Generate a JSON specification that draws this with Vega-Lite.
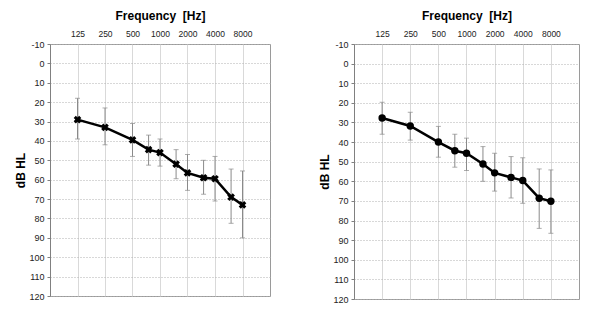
{
  "$schema": "https://vega.github.io/schema/vega-lite/v6.json",
  "padding": {"left": 14, "top": 8, "right": 5, "bottom": 5},
  "background": "white",
  "datasets": {
    "left": [
      {"freq": 125, "mean": 29, "lo": 18, "hi": 39},
      {"freq": 250, "mean": 33, "lo": 23, "hi": 42},
      {"freq": 500, "mean": 39.5, "lo": 31, "hi": 48},
      {"freq": 750, "mean": 44.5, "lo": 37, "hi": 52.5},
      {"freq": 1000, "mean": 46, "lo": 39, "hi": 53},
      {"freq": 1500, "mean": 52, "lo": 44.5, "hi": 59.5},
      {"freq": 2000, "mean": 56.5, "lo": 47, "hi": 65.5},
      {"freq": 3000, "mean": 59, "lo": 50, "hi": 67.5},
      {"freq": 4000, "mean": 59.5, "lo": 48, "hi": 71},
      {"freq": 6000, "mean": 69, "lo": 54.5, "hi": 82.5},
      {"freq": 8000, "mean": 73, "lo": 55.5, "hi": 90}
    ],
    "right": [
      {"freq": 125, "mean": 27.7, "lo": 19.7, "hi": 36},
      {"freq": 250, "mean": 31.8, "lo": 24.8, "hi": 39},
      {"freq": 500, "mean": 40, "lo": 32, "hi": 47.7},
      {"freq": 750, "mean": 44.4, "lo": 36, "hi": 52.8},
      {"freq": 1000, "mean": 45.7, "lo": 38, "hi": 54.5},
      {"freq": 1500, "mean": 51.2, "lo": 42.3, "hi": 60},
      {"freq": 2000, "mean": 55.7, "lo": 45.7, "hi": 65},
      {"freq": 3000, "mean": 58, "lo": 47.4, "hi": 68.5},
      {"freq": 4000, "mean": 59.6, "lo": 48, "hi": 71.2},
      {"freq": 6000, "mean": 68.6, "lo": 53.7, "hi": 84},
      {"freq": 8000, "mean": 70.2, "lo": 54.2, "hi": 86.5}
    ]
  },
  "spacing": 47,
  "hconcat": [
    {
      "width": 220,
      "height": 252,
      "data": {"name": "left"},
      "encoding": {
        "x": {"field": "freq", "type": "quantitative",
          "scale": {"type": "log", "base": 2, "domain": [62.5, 16000], "nice": false},
          "axis": {"orient": "top", "values": [125, 250, 500, 1000, 2000, 4000, 8000], "tickCount": 20, "format": "d",
            "title": "Frequency\u00a0\u00a0[Hz]", "ticks": false, "domain": false, "labelPadding": 6, "titlePadding": 7}},
        "y": {"field": "mean", "type": "quantitative",
          "scale": {"domain": [-10, 120], "reverse": true, "nice": false, "zero": false},
          "axis": {"values": [-10, 0, 10, 20, 30, 40, 50, 60, 70, 80, 90, 100, 110, 120], "tickCount": 30, "labelOverlap": false, "labelExpr": "'' + datum.value", "title": "dB HL", "titlePadding": 1}}
      },
      "layer": [
        {"mark": {"type": "errorbar", "ticks": {"size": 5}, "color": "#8a8a8a", "thickness": 1},
          "encoding": {
            "y": {"field": "lo", "type": "quantitative",
              "scale": {"domain": [-10, 120], "reverse": true, "nice": false, "zero": false},
              "axis": {"values": [-10, 0, 10, 20, 30, 40, 50, 60, 70, 80, 90, 100, 110, 120], "tickCount": 30, "labelOverlap": false, "labelExpr": "'' + datum.value", "title": "dB HL", "titlePadding": 1}},
            "y2": {"field": "hi"}}},
        {"mark": {"type": "rule", "color": "#8c8c8c", "strokeWidth": 1}, "encoding": {"y": {"datum": 0, "type": "quantitative"}}},
        {"mark": {"type": "line", "color": "black", "strokeWidth": 2.5}},
        {"mark": {"type": "point", "shape": "cross", "angle": 45, "filled": true, "color": "black", "size": 60, "opacity": 1}}
      ]
    },
    {
      "width": 225,
      "height": 255,
      "data": {"name": "right"},
      "encoding": {
        "x": {"field": "freq", "type": "quantitative",
          "scale": {"type": "log", "base": 2, "domain": [62.5, 16000], "nice": false},
          "axis": {"orient": "top", "values": [125, 250, 500, 1000, 2000, 4000, 8000], "tickCount": 20, "format": "d",
            "title": "Frequency\u00a0\u00a0[Hz]", "ticks": false, "domain": false, "labelPadding": 6, "titlePadding": 7}},
        "y": {"field": "mean", "type": "quantitative",
          "scale": {"domain": [-10, 120], "reverse": true, "nice": false, "zero": false},
          "axis": {"values": [-10, 0, 10, 20, 30, 40, 50, 60, 70, 80, 90, 100, 110, 120], "tickCount": 30, "labelOverlap": false, "labelExpr": "'' + datum.value", "title": "dB HL", "titlePadding": 1}}
      },
      "layer": [
        {"mark": {"type": "errorbar", "ticks": {"size": 5}, "color": "#8a8a8a", "thickness": 1},
          "encoding": {
            "y": {"field": "lo", "type": "quantitative",
              "scale": {"domain": [-10, 120], "reverse": true, "nice": false, "zero": false},
              "axis": {"values": [-10, 0, 10, 20, 30, 40, 50, 60, 70, 80, 90, 100, 110, 120], "tickCount": 30, "labelOverlap": false, "labelExpr": "'' + datum.value", "title": "dB HL", "titlePadding": 1}},
            "y2": {"field": "hi"}}},
        {"mark": {"type": "rule", "color": "#8c8c8c", "strokeWidth": 1}, "encoding": {"y": {"datum": 0, "type": "quantitative"}}},
        {"mark": {"type": "line", "color": "black", "strokeWidth": 2.5}},
        {"mark": {"type": "point", "shape": "circle", "filled": true, "color": "black", "size": 55, "opacity": 1}}
      ]
    }
  ],
  "config": {
    "font": "Liberation Sans",
    "view": {"stroke": "#9a9a9a", "strokeWidth": 1},
    "axis": {
      "labelFont": "Liberation Sans", "labelFontSize": 9, "labelColor": "#222222",
      "titleFont": "Liberation Sans", "titleFontSize": 12, "titleFontWeight": "bold", "titleColor": "#000000",
      "gridColor": "#d9d9d9", "gridWidth": 1, "gridOpacity": 1
    },
    "axisY": {"grid": true, "gridDash": [1, 2], "gridColor": "#b0b0b0", "domainColor": "#808080", "tickColor": "#808080", "tickSize": 3, "labelPadding": 3},
    "axisX": {"gridDash": [], "labelFontSize": 8.5, "titleFontSize": 12}
  }
}
